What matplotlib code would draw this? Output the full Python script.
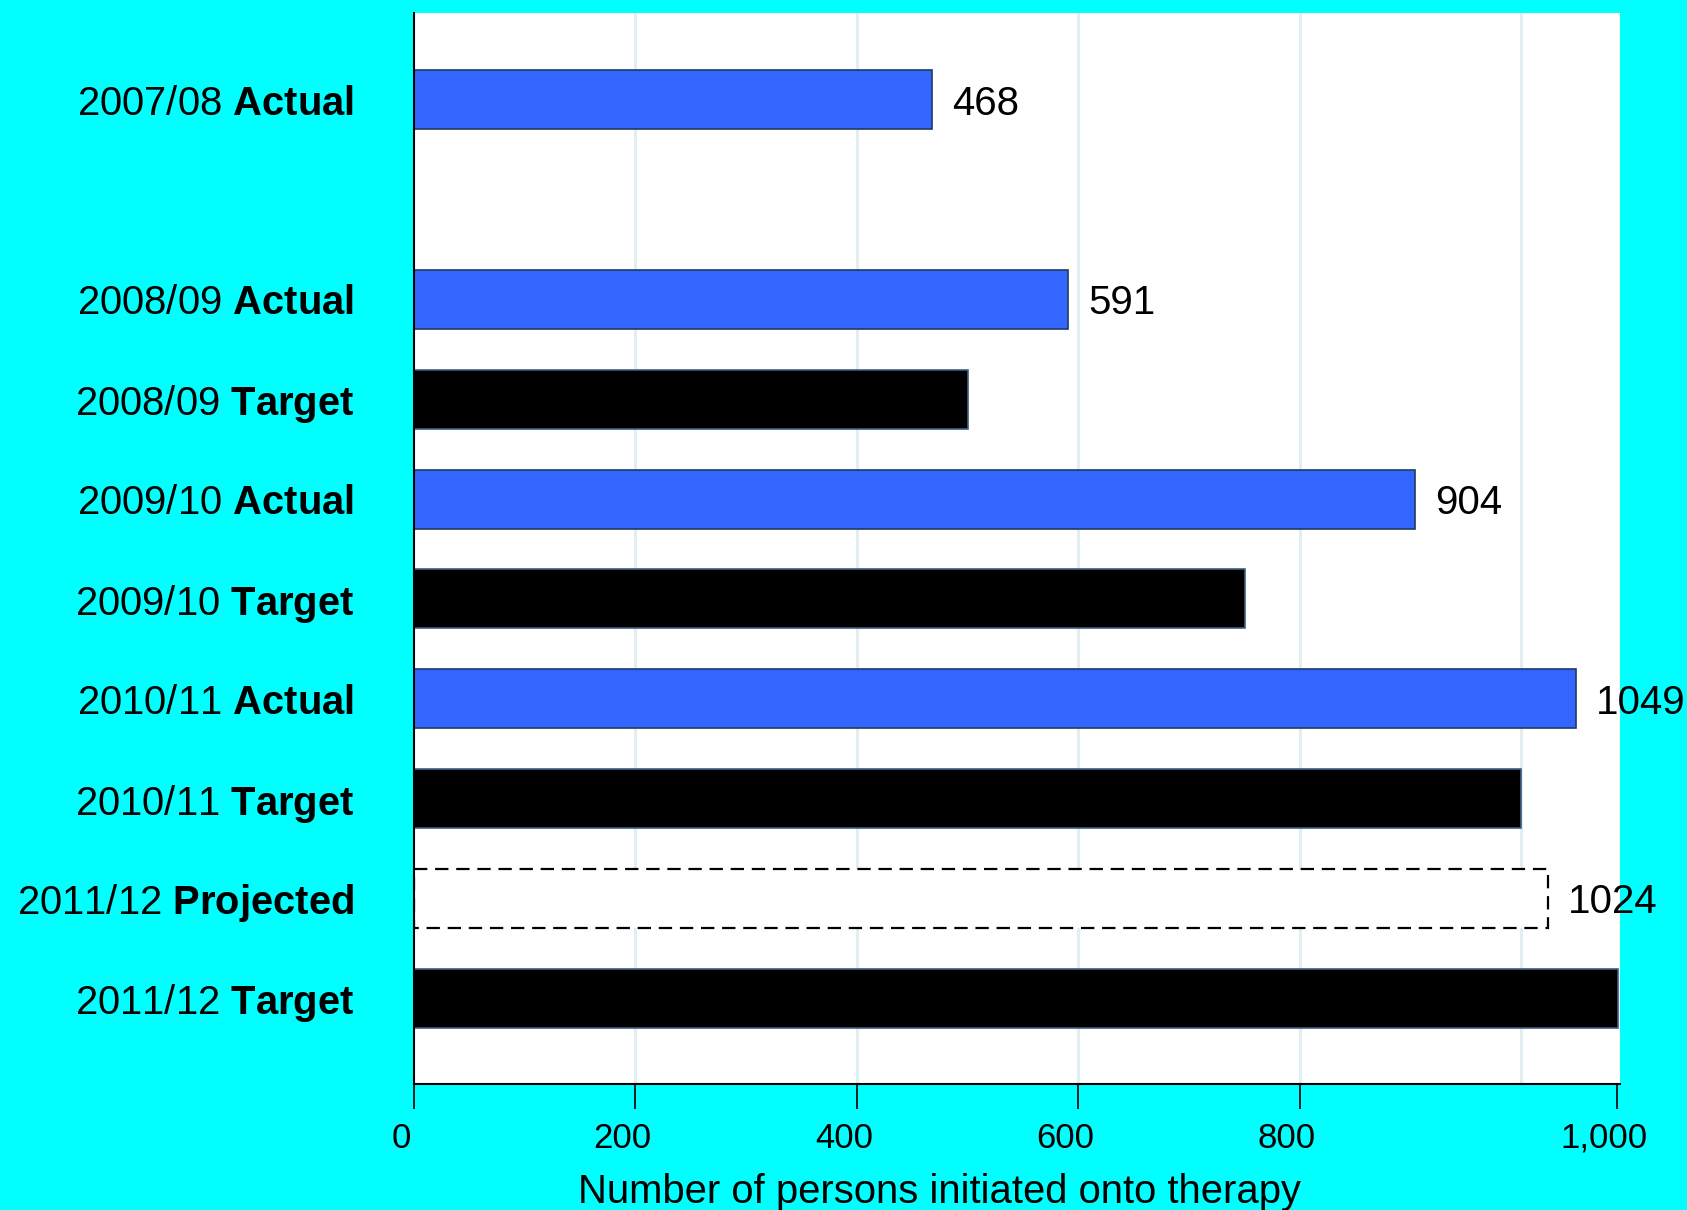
import matplotlib
matplotlib.use("Agg")
import matplotlib.pyplot as plt
import matplotlib.transforms as mtransforms

plt.rcParams['font.family'] = ['Liberation Sans', 'DejaVu Sans']
plt.rcParams['mathtext.fontset'] = 'custom'
plt.rcParams['mathtext.rm'] = 'Liberation Sans'
plt.rcParams['mathtext.bf'] = 'Liberation Sans:bold'

years = ["2007/08", "2008/09", "2008/09", "2009/10", "2009/10",
         "2010/11", "2010/11", "2011/12", "2011/12"]
kinds = ["Actual", "Actual", "Target", "Actual", "Target",
         "Actual", "Target", "Projected", "Target"]
values = [468, 591, 500, 904, 750, 1049, 1000, 1024, 1087]
slots = [0, 2, 3, 4, 5, 6, 7, 8, 9]
tick_values = [0, 200, 400, 600, 800, 1086]
tick_labels = ["0", "200", "400", "600", "800", "1,000"]
grid_values = [200, 400, 600, 800, 1000]
xlabel = "Number of persons initiated onto therapy"

W, H = 1687, 1210
fig = plt.figure(figsize=(W / 100, H / 100), dpi=100, facecolor='#00FFFF')
ax = fig.add_axes([414 / W, 1 - 1084 / H, (1620 - 414) / W, (1084 - 13) / H])
ax.set_facecolor('white')

for g in grid_values:
    ax.axvline(g, color='#e3eef2', lw=2.2, zorder=0)

for s, v, k in zip(slots, values, kinds):
    if k == "Actual":
        ax.barh(s, v, height=0.59, color='#3366FF', edgecolor='#1f3a66', lw=1.2, zorder=2)
    elif k == "Target":
        ax.barh(s, v, height=0.59, color='black', edgecolor='#3d5f80', lw=1.2, zorder=2)
    else:
        ax.barh(s, v, height=0.59, color='white', edgecolor='black', lw=1.6,
                linestyle=(0, (6, 3.5)), zorder=2)
    if k in ("Actual", "Projected"):
        ax.annotate(str(v), xy=(v, s), xytext=(20, 0), textcoords='offset pixels',
                    ha='left', va='center_baseline', fontsize=29, color='black', zorder=3,
                    annotation_clip=False)

ax.set_xlim(0, 1089)
ax.set_ylim(9.86, -0.87)

ax.set_yticks(slots)
ax.set_yticklabels([f"{y} $\\mathbf{{{k}}}$" for y, k in zip(years, kinds)], fontsize=28.8)
ax.tick_params(axis='y', length=0, pad=43)

ax.set_xticks(tick_values)
ax.set_xticklabels(tick_labels, fontsize=25)
ax.tick_params(axis='x', direction='out', length=18, width=1.2, pad=9, color='black')
offset = mtransforms.ScaledTranslation(-13 / 100, 0, fig.dpi_scale_trans)
for lab in ax.get_xticklabels():
    lab.set_transform(lab.get_transform() + offset)

for side in ('top', 'right'):
    ax.spines[side].set_visible(False)
ax.spines['left'].set_linewidth(1.5)
ax.spines['bottom'].set_linewidth(1.5)

ax.set_xlabel(xlabel, fontsize=28.8)
ax.xaxis.set_label_coords((940 - 414) / (1620 - 414), -0.083)

fig.savefig("out.png", dpi=100, facecolor=fig.get_facecolor())
